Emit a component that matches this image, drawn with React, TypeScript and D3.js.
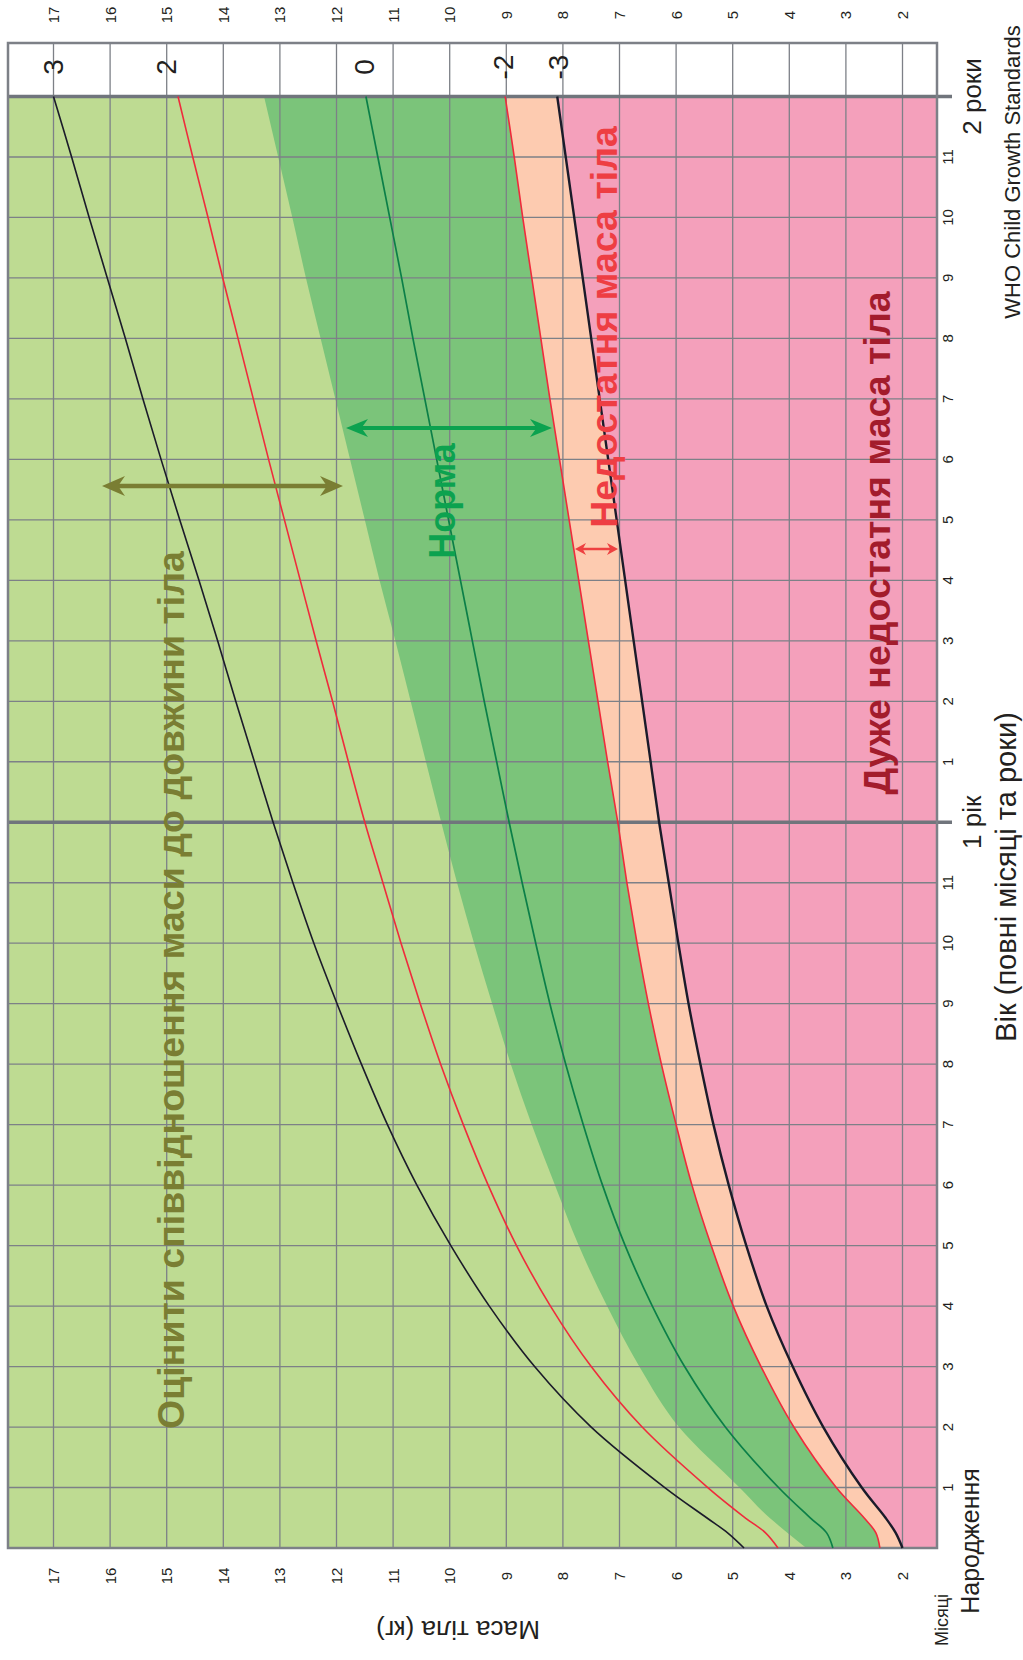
import React from "react";
import * as d3 from "d3";

// Age in months (birth .. 2 years)
const ageMonths = [0, 0.25, 0.5, 1, 2, 3, 4, 5, 6, 7, 8, 9, 10, 11, 12, 13, 14, 15, 16, 17, 18, 19, 20, 21, 22, 23, 24];
// Weight (kg) z-score curves
const sdNeg3 = [2.0, 2.12, 2.3, 2.72, 3.4, 3.94, 4.4, 4.76, 5.07, 5.34, 5.57, 5.78, 5.96, 6.13, 6.3, 6.45, 6.6, 6.75, 6.9, 7.05, 7.2, 7.35, 7.5, 7.65, 7.8, 7.95, 8.1];
const sdNeg2 = [2.4, 2.47, 2.68, 3.17, 3.92, 4.5, 4.99, 5.38, 5.72, 6.0, 6.26, 6.49, 6.69, 6.87, 7.03, 7.21, 7.38, 7.55, 7.72, 7.89, 8.06, 8.23, 8.39, 8.55, 8.71, 8.86, 9.02];
const sd0 = [3.23, 3.34, 3.63, 4.19, 5.13, 5.85, 6.42, 6.9, 7.3, 7.64, 7.95, 8.23, 8.48, 8.72, 8.95, 9.17, 9.39, 9.6, 9.81, 10.02, 10.23, 10.44, 10.65, 10.85, 11.06, 11.27, 11.48];
const sd2 = [4.2, 4.42, 4.78, 5.44, 6.6, 7.5, 8.22, 8.82, 9.32, 9.76, 10.16, 10.52, 10.86, 11.18, 11.5, 11.79, 12.07, 12.36, 12.64, 12.92, 13.2, 13.47, 13.74, 14.01, 14.27, 14.54, 14.8];
const sd3 = [4.8, 5.09, 5.46, 6.2, 7.5, 8.5, 9.3, 9.98, 10.58, 11.1, 11.56, 11.99, 12.4, 12.77, 13.12, 13.45, 13.78, 14.1, 14.43, 14.77, 15.1, 15.42, 15.73, 16.05, 16.37, 16.68, 17.0];
// upper edge of the dark-green "normal" band
const normUpper = [3.7, 4.03, 4.35, 4.88, 5.95, 6.65, 7.22, 7.72, 8.14, 8.55, 8.92, 9.25, 9.57, 9.87, 10.15, 10.42, 10.69, 10.96, 11.24, 11.5, 11.76, 12.02, 12.28, 12.54, 12.78, 13.03, 13.28];

const weightTicks = [2, 3, 4, 5, 6, 7, 8, 9, 10, 11, 12, 13, 14, 15, 16, 17];
const monthGrid = d3.range(0, 25);
const monthLabels = [1, 2, 3, 4, 5, 6, 7, 8, 9, 10, 11];
const zLabels = ["3", "2", "0", "-2", "-3"];
const zLabelWeights = [17.0, 15.0, 11.5, 9.05, 8.08];

const FONT = "'Liberation Sans', Arial, Helvetica, sans-serif";

export default function App() {
  const W = 1023, H = 1660;
  const left = 8, right = 937, boxTop = 43;
  const x = d3.scaleLinear().domain([17, 2]).range([53.5, 902.5]);
  const y = d3.scaleLinear().domain([0, 24]).range([1548, 96.5]);
  const yBottom = y(0), yTop = y(24);
  const curve = d3.curveCatmullRom.alpha(0.5);

  const mkLine = (vals: number[]) =>
    d3.line<number>().x((v) => x(v)).y((_, i) => y(ageMonths[i])).curve(curve)(vals) || "";
  const mkArea = (vals: number[]) =>
    d3.area<number>().x0((v) => x(v)).x1(() => right).y((_, i) => y(ageMonths[i])).curve(d3.curveMonotoneY)(vals) || "";

  const gridColor = "#7d8087";
  const textColor = "#231f20";

  const rotText = (tx: number, ty: number, txt: string, opts: any = {}) => (
    <text
      transform={`translate(${tx},${ty}) rotate(${opts.rot ?? -90})`}
      textAnchor={opts.anchor ?? "middle"}
      dominantBaseline={opts.baseline ?? "central"}
      fontSize={opts.size ?? 15}
      fontWeight={opts.weight ?? "normal"}
      fill={opts.fill ?? textColor}
      fontFamily={FONT}
    >
      {txt}
    </text>
  );

  const arrow = (x1: number, x2: number, yy: number, color: string, sw: number, hl: number, hw: number) => (
    <g>
      <line x1={x1 + hl * 0.6} x2={x2 - hl * 0.6} y1={yy} y2={yy} stroke={color} strokeWidth={sw} />
      <path d={`M${x1},${yy} L${x1 + hl},${yy - hw} L${x1 + hl * 0.7},${yy} L${x1 + hl},${yy + hw} Z`} fill={color} />
      <path d={`M${x2},${yy} L${x2 - hl},${yy - hw} L${x2 - hl * 0.7},${yy} L${x2 - hl},${yy + hw} Z`} fill={color} />
    </g>
  );

  return (
    <svg width={W} height={H} style={{ position: "absolute", left: 0, top: 0, display: "block", background: "#fff" }}>
      {/* backgrounds */}
      <rect x={left} y={yTop} width={right - left} height={yBottom - yTop} fill="#bedb92" />
      <path d={mkArea(normUpper)} fill="#7bc47a" />
      <path d={mkArea(sdNeg2)} fill="#fdcbb0" />
      <path d={mkArea(sdNeg3)} fill="#f4a0bb" />
      <rect x={left} y={boxTop} width={right - left} height={yTop - boxTop} fill="#ffffff" />

      {/* grid */}
      {weightTicks.map((w) => (
        <line key={"v" + w} x1={x(w)} x2={x(w)} y1={boxTop} y2={yBottom} stroke={gridColor} strokeWidth={1.3} />
      ))}
      {monthGrid.map((m) => (
        <line key={"h" + m} x1={left} x2={right} y1={y(m)} y2={y(m)} stroke={gridColor} strokeWidth={1.3} />
      ))}
      {[12, 24].map((m) => (
        <line key={"t" + m} x1={left} x2={952} y1={y(m)} y2={y(m)} stroke="#70757c" strokeWidth={3.5} />
      ))}
      <rect x={left} y={boxTop} width={right - left} height={yBottom - boxTop} fill="none" stroke={gridColor} strokeWidth={2.5} />

      {/* curves */}
      <path d={mkLine(sd3)} fill="none" stroke="#1b1b2a" strokeWidth={1.6} />
      <path d={mkLine(sd2)} fill="none" stroke="#ef2b3c" strokeWidth={1.6} />
      <path d={mkLine(sd0)} fill="none" stroke="#0b7f48" strokeWidth={1.7} />
      <path d={mkLine(sdNeg2)} fill="none" stroke="#ef2b3c" strokeWidth={1.6} />
      <path d={mkLine(sdNeg3)} fill="none" stroke="#1b1b2a" strokeWidth={2.4} />

      {/* z-score labels */}
      {zLabels.map((z, i) => (
        <g key={"z" + i}>{rotText(x(zLabelWeights[i]), 67, z, { size: 28 })}</g>
      ))}

      {/* weight tick labels */}
      {weightTicks.map((w) => (
        <g key={"wt" + w}>
          {rotText(x(w), 15, String(w), { size: 15 })}
          {rotText(x(w), 1576, String(w), { size: 15 })}
        </g>
      ))}

      {/* age tick labels */}
      {[0, 12].map((base) =>
        monthLabels.map((m) => <g key={"a" + base + m}>{rotText(947, y(base + m), String(m), { size: 15 })}</g>)
      )}

      {/* axis texts */}
      {rotText(972, y(24), "2 роки", { size: 26 })}
      {rotText(1012, 172, "WHO Child Growth Standards", { size: 22 })}
      {rotText(972, y(12), "1 рік", { size: 26 })}
      {rotText(1006, 877, "Вік (повні місяці та роки)", { size: 29 })}
      {rotText(970, 1541, "Народження", { size: 25 })}
      {rotText(942, 1620, "Місяці", { size: 18 })}
      {rotText(458, 1630, "Маса тіла (кг)", { size: 26, rot: 180 })}

      {/* annotations */}
      {arrow(102, 343, 486, "#7a7e33", 4.5, 23, 10)}
      {arrow(346, 552, 428, "#0ca24f", 4, 22, 9)}
      {arrow(575, 618, 549, "#ee4040", 2.5, 11, 6)}
      {rotText(184, 990, "Оцінити співвідношення маси до довжини тіла", { size: 37.5, weight: "bold", fill: "#7a7e33", baseline: "alphabetic" })}
      {rotText(455, 501, "Норма", { size: 36, weight: "bold", fill: "#0ca24f", baseline: "alphabetic" })}
      {rotText(617, 327, "Недостатня маса тіла", { size: 37.5, weight: "bold", fill: "#ee3e43", baseline: "alphabetic" })}
      {rotText(890, 543, "Дуже недостатня маса тіла", { size: 37.5, weight: "bold", fill: "#a31c2c", baseline: "alphabetic" })}
    </svg>
  );
}
